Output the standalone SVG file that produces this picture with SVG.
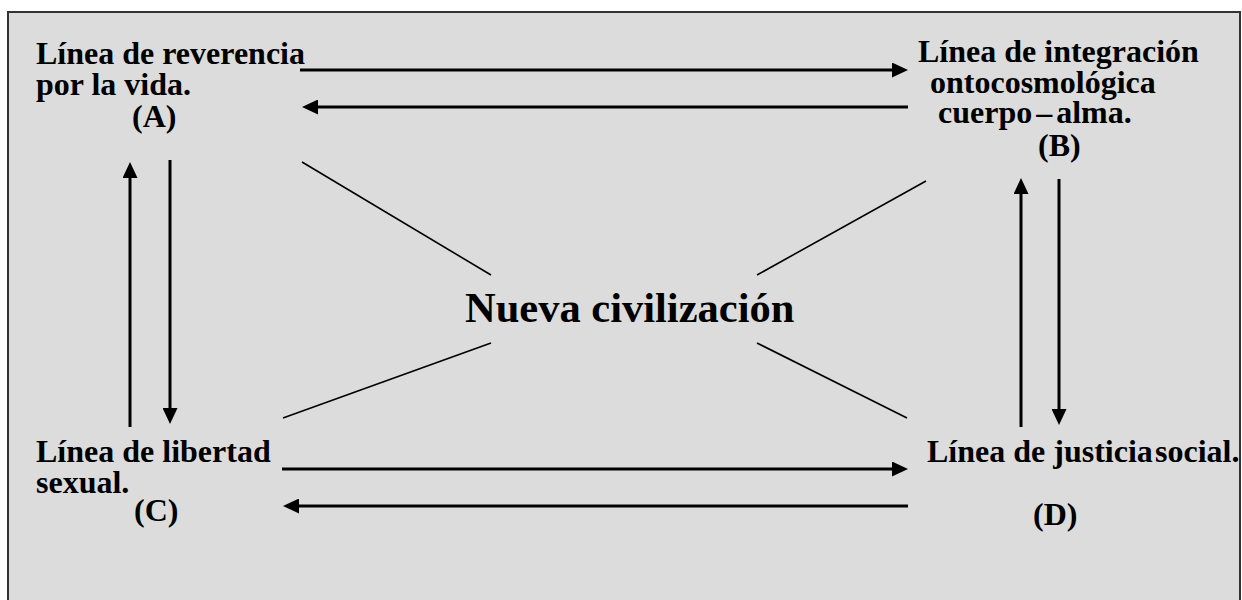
<svg xmlns="http://www.w3.org/2000/svg" width="1242" height="600" viewBox="0 0 1242 600">
<style>
.t{font-family:"Liberation Serif","Times New Roman",serif;font-weight:bold;font-size:32px;fill:#000}
.big{font-size:42.5px}
.arr{stroke:#000;stroke-width:3;fill:none;marker-end:url(#ah)}
.diag{stroke:#000;stroke-width:1.6;fill:none}
</style>
<defs>
<marker id="ah" viewBox="0 0 16 15" refX="6" refY="7.5" markerWidth="16" markerHeight="15" markerUnits="userSpaceOnUse" orient="auto">
<path d="M0,0 L16,7.5 L0,15 z" fill="#000"/>
</marker>
</defs>
<rect x="0" y="0" width="1242" height="600" fill="#ffffff"/>
<rect x="8" y="12" width="1232" height="600" fill="#dcdcdc" stroke="#333" stroke-width="2"/>
<g id="connectors">
<path class="arr" d="M300,70 L898,70"/>
<path class="arr" d="M908,107 L312,107"/>
<path class="arr" d="M130,427 L130,172"/>
<path class="arr" d="M170,160 L170,414"/>
<path class="arr" d="M1021,427 L1021,188"/>
<path class="arr" d="M1059,179 L1059,415"/>
<path class="arr" d="M282,469 L898,469"/>
<path class="arr" d="M908,506 L293,506"/>
<path class="diag" d="M302,162 L491,275"/>
<path class="diag" d="M926,181 L757,275"/>
<path class="diag" d="M491,343 L283,418"/>
<path class="diag" d="M757,343 L907,418"/>
</g>
<g id="node-A">
<text class="t" x="36" y="64">Línea de reverencia</text>
<text class="t" x="36" y="95">por la vida.</text>
<text class="t" x="132" y="127">(A)</text>
</g>
<g id="node-B">
<text class="t" x="918" y="62">Línea de integración</text>
<text class="t" x="930" y="93">ontocosmológica</text>
<text class="t" x="938" y="123" word-spacing="-4">cuerpo – alma.</text>
<text class="t" x="1038" y="156">(B)</text>
</g>
<g id="node-C">
<text class="t" x="36" y="462">Línea de libertad</text>
<text class="t" x="36" y="493">sexual.</text>
<text class="t" x="134" y="521">(C)</text>
</g>
<g id="node-D">
<text class="t" y="462"><tspan x="927">Línea de justicia</tspan><tspan x="1155">social.</tspan></text>
<text class="t" x="1033" y="525">(D)</text>
</g>
<g id="node-center">
<text class="t big" x="465" y="322">Nueva civilización</text>
</g>
</svg>
